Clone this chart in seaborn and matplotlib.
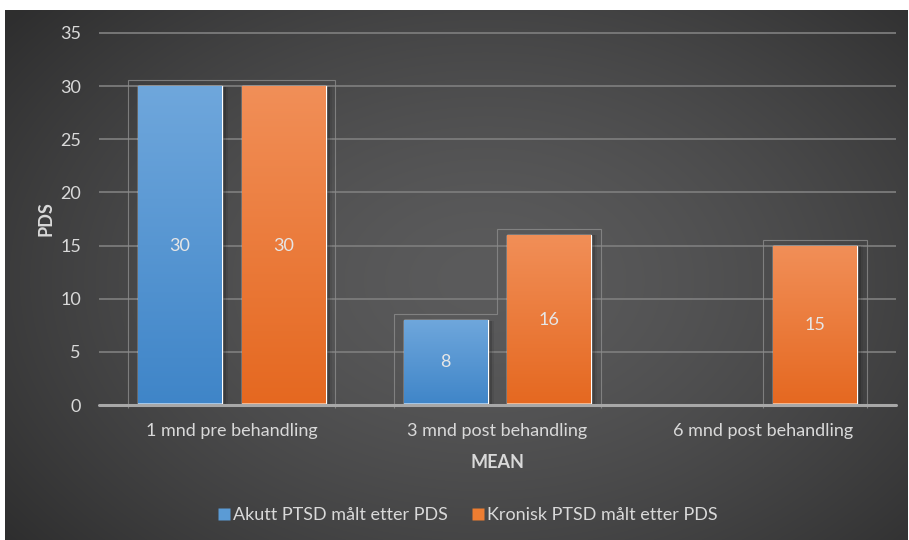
import numpy as np
import pandas as pd
import seaborn as sns
import matplotlib.pyplot as plt
from matplotlib.lines import Line2D
from matplotlib.patches import Rectangle, Polygon

# ---- data -------------------------------------------------------------
categories = ["1 mnd pre behandling", "3 mnd post behandling", "6 mnd post behandling"]
series_names = ["Akutt PTSD målt etter PDS", "Kronisk PTSD målt etter PDS"]
akutt = [30, 8, np.nan]
kronisk = [30, 16, 15]
y_ticks = [0, 5, 10, 15, 20, 25, 30, 35]

df = pd.DataFrame({
    "Tidspunkt": categories * 2,
    "Gruppe": [series_names[0]] * len(categories) + [series_names[1]] * len(categories),
    "PDS": akutt + kronisk,
})

# ---- style ------------------------------------------------------------
sns.set_style("dark")
plt.rcParams["font.family"] = ["Lato", "DejaVu Sans"]
TEXT = "#d9d9d9"
FS = 13
BLUE, ORANGE = "#5b9bd5", "#ed7d31"
GRADS = {
    0: ("#6fa7dc", "#3f85c8", "#a3c7ea"),
    1: ("#f18f58", "#e56820", "#f7b78f"),
}

W, H = 909, 540
fig = plt.figure(figsize=(W / 100, H / 100), dpi=100, facecolor="white")

# dark radial backdrop
bg = fig.add_axes([5 / W, 0, 903 / W, 530 / H], zorder=0)
bg.axis("off")
yy, xx = np.mgrid[0:530, 0:903]
d = np.sqrt(((xx - 480) / 610.0) ** 2 + ((yy - 270) / 420.0) ** 2)
t = np.clip(d, 0, 1) ** 1.5
c_mid, c_edge = 0x5b / 255, 0x2e / 255
g = c_mid + (c_edge - c_mid) * t
bg.imshow(np.dstack([g, g, g * 1.01]).clip(0, 1), extent=[0, 1, 0, 1], aspect="auto")

# plotting area
ax = fig.add_axes([99 / W, 135 / H, 797 / W, 375.2 / H], zorder=1)
ax.patch.set_alpha(0)

sns.barplot(data=df, x="Tidspunkt", y="PDS", hue="Gruppe", hue_order=series_names,
            order=categories, palette=[BLUE, ORANGE], width=0.78, gap=0.19,
            saturation=1, errorbar=None, legend=False, ax=ax, zorder=3)

ax.set_xlim(-0.5, len(categories) - 0.5)
ax.set_ylim(0, 35.3)
ax.set_yticks(y_ticks)
ax.grid(axis="y", color="#7b7b7b", linewidth=1.3, zorder=0)
ax.grid(axis="x", visible=False)
ax.set_axisbelow(True)
for s in ax.spines.values():
    s.set_visible(False)
ax.axhline(0, color="#a8a8a8", linewidth=2.2, zorder=6, clip_on=False)

ax.tick_params(axis="both", length=0, labelsize=FS, colors=TEXT)
ax.tick_params(axis="y", pad=13)
ax.tick_params(axis="x", pad=13)

ax.set_xlabel("MEAN", fontsize=FS, fontweight="bold", color=TEXT)
ax.set_ylabel("PDS", fontsize=FS, fontweight="bold", color=TEXT)
ax.xaxis.set_label_coords(0.5, -0.152)
ax.xaxis.label.set_va("center")
ax.yaxis.set_label_coords(-0.0665, 0.496)
ax.yaxis.label.set_va("center")

# gradient fills, shadows and frames for each bar
px = 1.0 / 265.7  # one pixel in category units
slots = {}
for k, cont in enumerate(ax.containers):
    top_c, bot_c, rim_c = GRADS[k]
    c1 = np.array(plt.matplotlib.colors.to_rgb(top_c))
    c2 = np.array(plt.matplotlib.colors.to_rgb(bot_c))
    for i, bar in enumerate(cont.patches):
        h = bar.get_height()
        if not np.isfinite(h) or h <= 0:
            continue
        x0, w = bar.get_x(), bar.get_width()
        # soft shadow to the right
        for j, a in enumerate([0.22, 0.14, 0.07]):
            ax.add_patch(Rectangle((x0 + w, 0), (2 + 2 * j) * px, h - 0.05,
                                   facecolor="black", alpha=a, edgecolor="none", zorder=2))
        grad = np.linspace(0, 1, 256)[:, None, None]
        img = c1 * (1 - grad) + c2 * grad
        im = ax.imshow(img, extent=[x0, x0 + w, 0, h], aspect="auto",
                       origin="upper", zorder=3.5, interpolation="bilinear")
        im.set_clip_path(bar)
        ax.add_patch(Rectangle((x0, 0), w, 0.22, facecolor=rim_c,
                               edgecolor="none", zorder=4))
        slots.setdefault(i, []).append((x0 + w / 2, h))
    ax.bar_label(cont, labels=[("%g" % v) if np.isfinite(v) else "" for v in cont.datavalues],
                 label_type="center", fontsize=FS, color="#e6e6e6", zorder=7)

# thin frame outlining each category's bars
half = (0.78 / 2) / 2
for i, items in slots.items():
    items.sort()
    pts = [(items[0][0] - half, -0.25)]
    for cx, h in items:
        pts.append((cx - half, h + 0.55))
        pts.append((cx + half, h + 0.55))
    pts.append((items[-1][0] + half, -0.25))
    ax.add_patch(Polygon(pts, closed=False, fill=False, edgecolor="#8c8c8c",
                         linewidth=0.8, alpha=0.8, zorder=1.5, clip_on=False))

ax.set_xlim(-0.5, len(categories) - 0.5)
ax.set_ylim(0, 35.3)

# legend
handles = [Line2D([], [], marker="s", linestyle="none", markersize=8,
                  markerfacecolor=c, markeredgecolor="none") for c in (BLUE, ORANGE)]
fig.legend(handles, series_names, loc="center", bbox_to_anchor=(467 / W, 25 / H),
           ncol=2, frameon=False, fontsize=FS, labelcolor=TEXT,
           handletextpad=0.1, columnspacing=1.25, handlelength=0.8)

fig.savefig("out.png", dpi=100, facecolor="white")
